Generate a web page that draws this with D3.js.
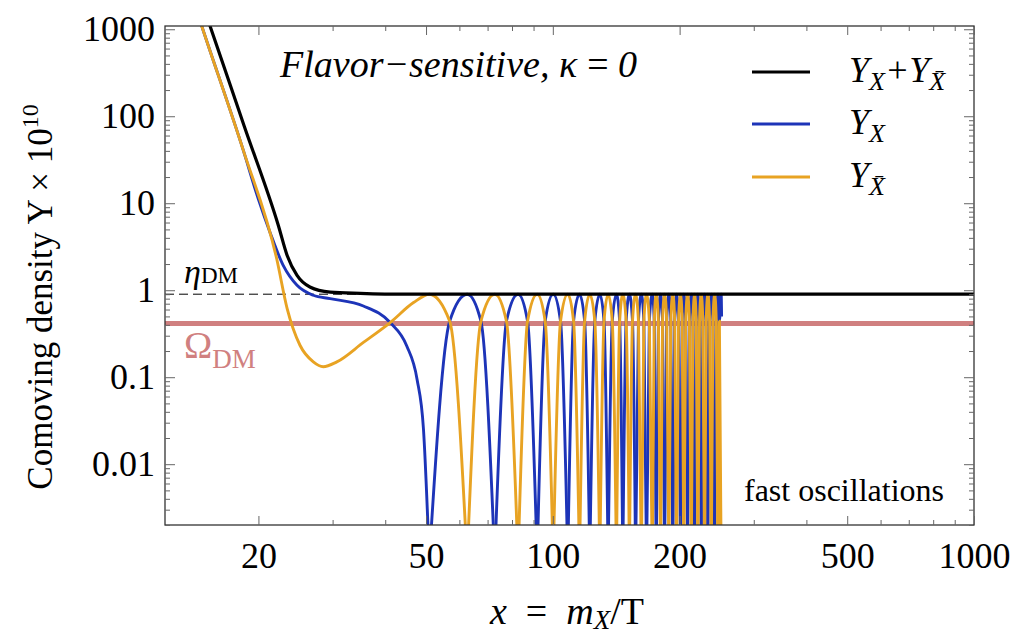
<!DOCTYPE html>
<html>
<head>
<meta charset="utf-8">
<script src="https://cdn.jsdelivr.net/npm/d3@7"></script>
<style>
  body { margin: 0; background: #fff; }
</style>
</head>
<body>
<svg id="chart" width="1015" height="634"></svg>
<script>
// ---- data ----
// total Y_X + Y_Xbar (black)
const totalX = [15.0, 15.35, 18.49, 22.3, 23.4, 24.7, 26.5, 29.6, 34.9, 45, 1000];
const totalY = [1500, 1090, 77.8, 5.55, 2.51, 1.48, 1.09, 0.953, 0.921, 0.9, 0.9];

// Y_X before the oscillations start (blue)
const blueEarlyX = [14.3, 14.67, 18.39, 20.0, 21.3, 22.9, 24.7, 27.0, 29.6, 35.5, 41.1, 45.0, 47.6, 49.3];
const blueEarlyY = [1590, 1090, 41.3, 11.1, 4.65, 1.93, 1.14, 0.875, 0.80, 0.659, 0.425, 0.229, 0.095, 0.0254];

// Y_Xbar before the oscillations start (orange)
const orangeEarlyX = [14.3, 14.67, 18.39, 22.1, 23.4, 25.1, 27.0, 28.5, 30.7, 35.5, 41.1, 46.7];
const orangeEarlyY = [1590, 1090, 41.3, 2.30, 0.615, 0.233, 0.150, 0.132, 0.150, 0.251, 0.425, 0.721];

// where each density drops to zero during the oscillations
const blueZeros = [50.9, 72.8, 91.8, 108.5, 122.4, 135.3, 146.6, 157.2, 166.9, 176.0, 184.2, 192.7,
  201.0, 208.9, 217.1, 225.1, 233.4, 242.2];
const orangeZeros = [62.6, 82.7, 100.2, 115.7, 129.3, 141.6, 152.0, 162.2, 172.2, 180.2, 188.6, 196.7,
  204.7, 213.2, 221.0, 229.2, 237.8, 246.6];
// where the two curves cross each other
const crossX = [56.9, 67.5, 77.6, 87.1, 95.9, 104.3, 112.0, 119.0, 125.8, 132.3, 138.4, 144.1, 149.3,
  154.6, 159.7, 164.5, 169.5, 174.1, 178.1, 182.2, 186.4, 190.6, 194.7, 198.8, 202.8, 206.8, 211.0,
  215.1, 219.0, 223.0, 227.1, 231.3, 235.6, 240.0, 244.4, 248.6];
const peakLevel = 0.9;
const crossLevel = 0.44;
const zeroLevel = 0.0008;   // below the frame, gets clipped
// end of the numerical solution
const blueTail = [[251.0, 0.9], [251.6, 0.5]];
const orangeTail = [[251.0, 0.0008]];

const etaDM = 0.9;
const omegaDM = 0.415;

const xMajor = [20, 50, 100, 200, 500, 1000];
const xMinor = [30, 40, 60, 70, 80, 90, 300, 400, 600, 700, 800, 900];
const yMajor = [0.01, 0.1, 1, 10, 100, 1000];
const yLabels = ["0.01", "0.1", "1", "10", "100", "1000"];

// ---- layout ----
const serif = "'Liberation Serif', 'Times New Roman', serif";
const mLeft = 165, mRight = 974, mTop = 26, mBottom = 525;
const svg = d3.select("#chart").style("font-family", serif);

const x = d3.scaleLog().domain([12, 1000]).range([mLeft, mRight]);
const y = d3.scaleLog().domain([0.002, 1090]).range([mBottom, mTop]);

svg.append("defs").append("clipPath").attr("id", "plot")
  .append("rect").attr("x", mLeft).attr("y", mTop)
  .attr("width", mRight - mLeft).attr("height", mBottom - mTop);

const plot = svg.append("g").attr("clip-path", "url(#plot)");

let line = d3.line()
  .x(function (d) { return x(d[0]); })
  .y(function (d) { return y(d[1]); })
  .curve(d3.curveMonotoneX);

// Omega_DM band
plot.append("line")
  .attr("x1", mLeft).attr("x2", mRight)
  .attr("y1", y(omegaDM)).attr("y2", y(omegaDM))
  .attr("stroke", "#d08080").attr("stroke-width", 5);

// eta_DM dashed
plot.append("line")
  .attr("x1", mLeft).attr("x2", mRight)
  .attr("y1", y(etaDM)).attr("y2", y(etaDM))
  .attr("stroke", "#000").attr("stroke-width", 1)
  .attr("stroke-dasharray", "9,5");

// build the arches between consecutive zeros
let events = [];
blueZeros.forEach(function (v) { events.push({ x: v, k: "B" }); });
orangeZeros.forEach(function (v) { events.push({ x: v, k: "O" }); });
crossX.forEach(function (v) { events.push({ x: v, k: "C" }); });
events.sort(function (a, b) { return a.x - b.x; });

function arches(own, early, tail) {
  let segs = [];
  let cur = early.slice();
  events.forEach(function (e) {
    let v = e.k === own ? zeroLevel : (e.k === "C" ? crossLevel : peakLevel);
    cur.push([e.x, v]);
    if (e.k === own) {
      segs.push(cur);
      cur = [[e.x, v]];
    }
  });
  segs.push(cur.concat(tail));
  return segs;
}

const blueSegs = arches("B", d3.zip(blueEarlyX, blueEarlyY), blueTail);
const orangeSegs = arches("O", d3.zip(orangeEarlyX, orangeEarlyY), orangeTail);

plot.append("g").selectAll("path").data(blueSegs).join("path")
  .attr("d", line).attr("fill", "none")
  .attr("stroke", "#1d34b8").attr("stroke-width", 2.9);

plot.append("g").selectAll("path").data(orangeSegs).join("path")
  .attr("d", line).attr("fill", "none")
  .attr("stroke", "#e8a323").attr("stroke-width", 2.9);

plot.append("path")
  .datum(d3.zip(totalX, totalY))
  .attr("d", line).attr("fill", "none")
  .attr("stroke", "#000").attr("stroke-width", 3.2);

// ---- frame and ticks ----
svg.append("rect")
  .attr("x", mLeft).attr("y", mTop)
  .attr("width", mRight - mLeft).attr("height", mBottom - mTop)
  .attr("fill", "none").attr("stroke", "#333").attr("stroke-width", 1.3);

const yMinor = y.ticks().filter(function (v) { return yMajor.indexOf(v) < 0; });

function styleAxis(g) {
  g.select(".domain").remove();
  g.selectAll(".tick line").attr("stroke", "#666").attr("stroke-width", 1);
  g.selectAll("text").attr("fill", "#000").attr("font-size", 36)
    .style("font-family", serif);
}

svg.append("g").attr("transform", "translate(0," + mBottom + ")")
  .call(d3.axisBottom(x).tickValues(xMajor).tickSize(-9).tickPadding(17).tickFormat(d3.format("d")))
  .call(styleAxis);
svg.append("g").attr("transform", "translate(0," + mBottom + ")")
  .call(d3.axisBottom(x).tickValues(xMinor).tickSize(-5).tickFormat(""))
  .call(styleAxis);
svg.append("g").attr("transform", "translate(0," + mTop + ")")
  .call(d3.axisTop(x).tickValues(xMajor).tickSize(-9).tickFormat(""))
  .call(styleAxis);
svg.append("g").attr("transform", "translate(0," + mTop + ")")
  .call(d3.axisTop(x).tickValues(xMinor).tickSize(-5).tickFormat(""))
  .call(styleAxis);

svg.append("g").attr("transform", "translate(" + mLeft + ",0)")
  .call(d3.axisLeft(y).tickValues(yMajor).tickSize(-10).tickPadding(10)
    .tickFormat(function (d, i) { return yLabels[i]; }))
  .call(styleAxis);
svg.append("g").attr("transform", "translate(" + mLeft + ",0)")
  .call(d3.axisLeft(y).tickValues(yMinor).tickSize(-5).tickFormat(""))
  .call(styleAxis);
svg.append("g").attr("transform", "translate(" + mRight + ",0)")
  .call(d3.axisRight(y).tickValues(yMajor).tickSize(-10).tickFormat(""))
  .call(styleAxis);
svg.append("g").attr("transform", "translate(" + mRight + ",0)")
  .call(d3.axisRight(y).tickValues(yMinor).tickSize(-5).tickFormat(""))
  .call(styleAxis);

// ---- texts ----
function addText(px, py, size) {
  return svg.append("text").attr("x", px).attr("y", py)
    .attr("font-size", size).style("font-family", serif);
}

addText(280, 77, 38).attr("font-style", "italic")
  .text("Flavor\u2212sensitive, \u03ba\u2009=\u20090");

// legend
const legend = [
  { y: 72, color: "#000", parts: [["Y", 0], ["X", 1], ["+Y", 0], ["X\u0304", 1]] },
  { y: 124, color: "#1d34b8", parts: [["Y", 0], ["X", 1]] },
  { y: 177, color: "#e8a323", parts: [["Y", 0], ["X\u0304", 1]] }
];
legend.forEach(function (d) {
  svg.append("line")
    .attr("x1", 752).attr("x2", 810).attr("y1", d.y).attr("y2", d.y)
    .attr("stroke", d.color).attr("stroke-width", 3.2);
  let t = addText(849, d.y + 10, 36).attr("font-style", "italic");
  let shifted = false;
  d.parts.forEach(function (p) {
    let dy = 0;
    if (p[1] && !shifted) { dy = 8; shifted = true; }
    else if (!p[1] && shifted) { dy = -8; shifted = false; }
    t.append("tspan").attr("dy", dy).attr("font-size", p[1] ? 26 : 36).text(p[0]);
  });
});

// eta_DM label
let eta = addText(184, 283, 34);
eta.append("tspan").attr("font-style", "italic").text("\u03b7");
eta.append("tspan").attr("font-size", 23).text("DM");

// Omega_DM label
let om = addText(184, 358, 38).attr("fill", "#d08080");
om.append("tspan").text("\u03a9");
om.append("tspan").attr("font-size", 27).attr("dy", 10).text("DM");

addText(744, 501, 32).text("fast oscillations");

// axis titles
let yt = svg.append("text")
  .attr("transform", "translate(52,297) rotate(-90)")
  .attr("text-anchor", "middle").attr("font-size", 35).style("font-family", serif);
yt.append("tspan").text("Comoving density Y \u00d7 10");
yt.append("tspan").attr("font-size", 24).attr("dy", -14).text("10");

let xt = addText(567, 624, 38).attr("text-anchor", "middle");
xt.append("tspan").attr("font-style", "italic").text("x");
xt.append("tspan").text("\u2002=\u2002");
xt.append("tspan").attr("font-style", "italic").text("m");
xt.append("tspan").attr("font-style", "italic").attr("font-size", 27).attr("dy", 5).text("X");
xt.append("tspan").attr("dy", -5).text("/T");
</script>
</body>
</html>
